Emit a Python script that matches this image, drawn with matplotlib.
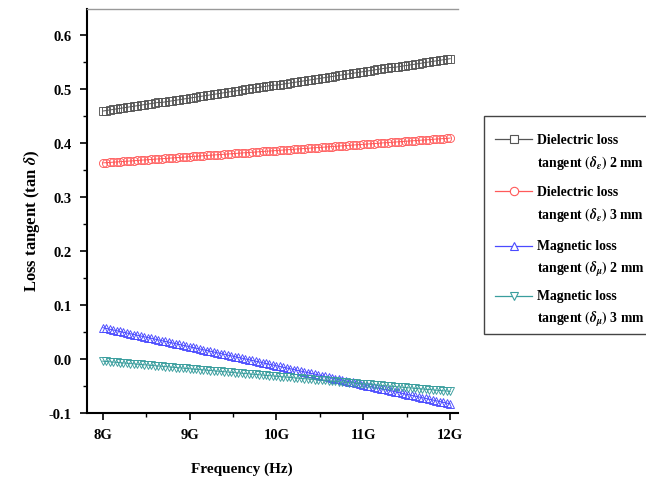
import matplotlib
matplotlib.use("Agg")
import matplotlib.pyplot as plt
from matplotlib.lines import Line2D
from matplotlib.patches import Rectangle
from matplotlib.ticker import MultipleLocator, FixedLocator

plt.rcParams['font.family'] = ['Liberation Serif', 'DejaVu Serif']
plt.rcParams['font.weight'] = 'bold'
plt.rcParams['mathtext.fontset'] = 'stix'

freq_ghz = [8.00, 8.04, 8.08, 8.12, 8.16, 8.20, 8.24, 8.28, 8.32, 8.36,
            8.40, 8.44, 8.48, 8.52, 8.56, 8.60, 8.64, 8.68, 8.72, 8.76,
            8.80, 8.84, 8.88, 8.92, 8.96, 9.00, 9.04, 9.08, 9.12, 9.16,
            9.20, 9.24, 9.28, 9.32, 9.36, 9.40, 9.44, 9.48, 9.52, 9.56,
            9.60, 9.64, 9.68, 9.72, 9.76, 9.80, 9.84, 9.88, 9.92, 9.96,
            10.00, 10.04, 10.08, 10.12, 10.16, 10.20, 10.24, 10.28, 10.32, 10.36,
            10.40, 10.44, 10.48, 10.52, 10.56, 10.60, 10.64, 10.68, 10.72, 10.76,
            10.80, 10.84, 10.88, 10.92, 10.96, 11.00, 11.04, 11.08, 11.12, 11.16,
            11.20, 11.24, 11.28, 11.32, 11.36, 11.40, 11.44, 11.48, 11.52, 11.56,
            11.60, 11.64, 11.68, 11.72, 11.76, 11.80, 11.84, 11.88, 11.92, 11.96,
            12.00]

diel_2mm = [0.459, 0.460, 0.461, 0.462, 0.463, 0.464, 0.465, 0.466, 0.467, 0.468,
            0.469, 0.470, 0.471, 0.472, 0.473, 0.474, 0.475, 0.475, 0.476, 0.477,
            0.478, 0.479, 0.480, 0.481, 0.482, 0.483, 0.484, 0.485, 0.486, 0.487,
            0.488, 0.489, 0.490, 0.491, 0.492, 0.493, 0.494, 0.495, 0.496, 0.497,
            0.498, 0.499, 0.500, 0.501, 0.502, 0.503, 0.504, 0.505, 0.506, 0.507,
            0.507, 0.508, 0.509, 0.510, 0.511, 0.512, 0.513, 0.514, 0.515, 0.516,
            0.517, 0.518, 0.519, 0.520, 0.521, 0.522, 0.523, 0.524, 0.525, 0.526,
            0.527, 0.528, 0.529, 0.530, 0.531, 0.532, 0.533, 0.534, 0.535, 0.536,
            0.537, 0.538, 0.539, 0.540, 0.540, 0.541, 0.542, 0.543, 0.544, 0.545,
            0.546, 0.547, 0.548, 0.549, 0.550, 0.551, 0.552, 0.553, 0.554, 0.555,
            0.556]

diel_3mm = [0.3630, 0.3635, 0.3639, 0.3644, 0.3648, 0.3653, 0.3658, 0.3662, 0.3667, 0.3671,
            0.3676, 0.3681, 0.3685, 0.3690, 0.3694, 0.3699, 0.3704, 0.3708, 0.3713, 0.3717,
            0.3722, 0.3727, 0.3731, 0.3736, 0.3740, 0.3745, 0.3750, 0.3754, 0.3759, 0.3763,
            0.3768, 0.3773, 0.3777, 0.3782, 0.3786, 0.3791, 0.3796, 0.3800, 0.3805, 0.3809,
            0.3814, 0.3819, 0.3823, 0.3828, 0.3832, 0.3837, 0.3842, 0.3846, 0.3851, 0.3855,
            0.3860, 0.3865, 0.3869, 0.3874, 0.3878, 0.3883, 0.3888, 0.3892, 0.3897, 0.3901,
            0.3906, 0.3911, 0.3915, 0.3920, 0.3924, 0.3929, 0.3934, 0.3938, 0.3943, 0.3947,
            0.3952, 0.3957, 0.3961, 0.3966, 0.3970, 0.3975, 0.3980, 0.3984, 0.3989, 0.3993,
            0.3998, 0.4003, 0.4007, 0.4012, 0.4016, 0.4021, 0.4026, 0.4030, 0.4035, 0.4039,
            0.4044, 0.4049, 0.4053, 0.4058, 0.4062, 0.4067, 0.4072, 0.4076, 0.4081, 0.4085,
            0.4090]

magn_2mm = [0.0580, 0.0566, 0.0552, 0.0538, 0.0524, 0.0510, 0.0495, 0.0481, 0.0467, 0.0453,
            0.0439, 0.0425, 0.0411, 0.0397, 0.0383, 0.0369, 0.0354, 0.0340, 0.0326, 0.0312,
            0.0298, 0.0284, 0.0270, 0.0256, 0.0242, 0.0228, 0.0213, 0.0199, 0.0185, 0.0171,
            0.0157, 0.0143, 0.0129, 0.0115, 0.0101, 0.0087, 0.0072, 0.0058, 0.0044, 0.0030,
            0.0016, 0.0002, -0.0012, -0.0026, -0.0040, -0.0054, -0.0069, -0.0083, -0.0097, -0.0111,
            -0.0125, -0.0139, -0.0153, -0.0167, -0.0181, -0.0195, -0.0210, -0.0224, -0.0238, -0.0252,
            -0.0266, -0.0280, -0.0294, -0.0308, -0.0322, -0.0336, -0.0351, -0.0365, -0.0379, -0.0393,
            -0.0407, -0.0421, -0.0435, -0.0449, -0.0463, -0.0477, -0.0492, -0.0506, -0.0520, -0.0534,
            -0.0548, -0.0562, -0.0576, -0.0590, -0.0604, -0.0618, -0.0633, -0.0647, -0.0661, -0.0675,
            -0.0689, -0.0703, -0.0717, -0.0731, -0.0745, -0.0759, -0.0774, -0.0788, -0.0802, -0.0816,
            -0.0830]

magn_3mm = [-0.0040, -0.0046, -0.0051, -0.0057, -0.0062, -0.0068, -0.0074, -0.0079, -0.0085, -0.0090,
            -0.0096, -0.0102, -0.0107, -0.0113, -0.0118, -0.0124, -0.0130, -0.0135, -0.0141, -0.0146,
            -0.0152, -0.0158, -0.0163, -0.0169, -0.0174, -0.0180, -0.0186, -0.0191, -0.0197, -0.0202,
            -0.0208, -0.0214, -0.0219, -0.0225, -0.0230, -0.0236, -0.0242, -0.0247, -0.0253, -0.0258,
            -0.0264, -0.0270, -0.0275, -0.0281, -0.0286, -0.0292, -0.0298, -0.0303, -0.0309, -0.0314,
            -0.0320, -0.0326, -0.0331, -0.0337, -0.0342, -0.0348, -0.0354, -0.0359, -0.0365, -0.0370,
            -0.0376, -0.0382, -0.0387, -0.0393, -0.0398, -0.0404, -0.0410, -0.0415, -0.0421, -0.0426,
            -0.0432, -0.0438, -0.0443, -0.0449, -0.0454, -0.0460, -0.0466, -0.0471, -0.0477, -0.0482,
            -0.0488, -0.0494, -0.0499, -0.0505, -0.0510, -0.0516, -0.0522, -0.0527, -0.0533, -0.0538,
            -0.0544, -0.0550, -0.0555, -0.0561, -0.0566, -0.0572, -0.0578, -0.0583, -0.0589, -0.0594,
            -0.0600]

series_labels = [
    ("Dielectric loss", r"tangent $(\delta_{\varepsilon})$ 2 mm"),
    ("Dielectric loss", r"tangent $(\delta_{\varepsilon})$ 3 mm"),
    ("Magnetic loss", r"tangent $(\delta_{\mu})$ 2 mm"),
    ("Magnetic loss", r"tangent $(\delta_{\mu})$ 3 mm"),
]
x_ticks = [8, 9, 10, 11, 12]
x_tick_labels = ["8G", "9G", "10G", "11G", "12G"]
y_ticks = [-0.1, 0.0, 0.1, 0.2, 0.3, 0.4, 0.5, 0.6]
y_tick_labels = ["-0.1", "0.0", "0.1", "0.2", "0.3", "0.4", "0.5", "0.6"]

series = [diel_2mm, diel_3mm, magn_2mm, magn_3mm]
colors = ["#555555", "#ff5a5a", "#4a4aff", "#3a9e9e"]
markers = ["s", "o", "^", "v"]

W, H = 646, 481
fig = plt.figure(figsize=(W / 100, H / 100), dpi=100)
ax = fig.add_axes([87 / W, 1 - 414 / H, (458 - 87) / W, (414 - 10) / H])

for ys, c, m in zip(series, colors, markers):
    ax.plot(freq_ghz, ys, color=c, lw=0.7, marker=m, markersize=5.8,
            markerfacecolor="none", markeredgecolor=c, markeredgewidth=0.65)

ax.set_xlim(7.82, 12.09)
ax.set_ylim(-0.1, 0.648)
ax.xaxis.set_major_locator(FixedLocator(x_ticks))
ax.set_xticklabels(x_tick_labels)
ax.xaxis.set_minor_locator(MultipleLocator(0.5))
ax.yaxis.set_major_locator(FixedLocator(y_ticks))
ax.set_yticklabels(y_tick_labels)
ax.yaxis.set_minor_locator(MultipleLocator(0.05))
ax.tick_params(which="major", direction="out", length=5, width=1.2, labelsize=10.5, pad=6)
ax.tick_params(which="minor", direction="out", length=3, width=1.0)
for sp in ["left", "bottom"]:
    ax.spines[sp].set_linewidth(1.5)
ax.spines["right"].set_visible(False)
ax.spines["top"].set_color("#999999")
ax.spines["top"].set_linewidth(1.0)

ax.set_xlabel("Frequency (Hz)", fontsize=11, fontweight="bold")
ax.xaxis.label.set_va("center")
ax.xaxis.set_label_coords((242 - 87) / (458 - 87), (414 - 469) / (414 - 10))
ax.set_ylabel(r"Loss tangent (tan $\delta$)", fontsize=12, fontweight="bold")
ax.yaxis.label.set_va("center")
ax.yaxis.set_label_coords((32 - 87) / (458 - 87), (414 - 221) / (414 - 10))

# legend box (figure coordinates)
fig.add_artist(Rectangle((484 / W, 1 - 335 / H), (660 - 484) / W, (335 - 117) / H,
                         transform=fig.transFigure, facecolor="white",
                         edgecolor="#444444", linewidth=1.0))
first_line_y = [140, 192, 247, 297]
for (l1, l2), c, m, yy in zip(series_labels, colors, markers, first_line_y):
    fig.add_artist(Line2D([495 / W, 532 / W], [1 - yy / H, 1 - yy / H],
                          transform=fig.transFigure, color=c, lw=0.9))
    fig.add_artist(Line2D([513.5 / W], [1 - yy / H], transform=fig.transFigure,
                          color=c, marker=m, markersize=6, markerfacecolor="white",
                          markeredgecolor=c, markeredgewidth=0.8))
    fig.text(537 / W, 1 - yy / H, l1, fontsize=9.9, fontweight="bold", va="center", ha="left")
    fig.text(537 / W, 1 - (yy + 22.5) / H, l2, fontsize=9.9, fontweight="bold", va="center", ha="left")

fig.savefig("out.png", dpi=100)
